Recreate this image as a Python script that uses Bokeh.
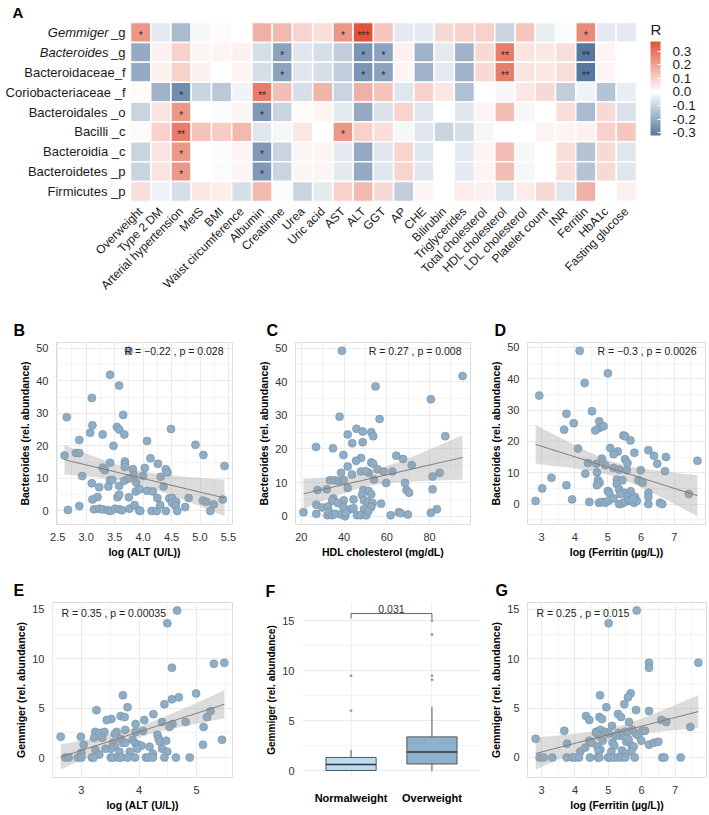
import math
import numpy as np
from bokeh.plotting import figure
from bokeh.models import (ColumnDataSource, LinearColorMapper, ColorBar, FixedTicker, Label, AllLabels,
                          Range1d, SingleIntervalTicker, PrintfTickFormatter)
from bokeh.layouts import column, row
from bokeh.embed import file_html
from bokeh.resources import INLINE
from bokeh.core.properties import value

FONT = "Liberation Sans"

# ---------------- Panel A data ----------------
rows = ["Gemmiger _g", "Bacteroides _g", "Bacteroidaceae_f", "Coriobacteriaceae _f", "Bacteroidales _o",
        "Bacilli _c", "Bacteroidia _c", "Bacteroidetes _p", "Firmicutes _p"]
cols = ["Overweight", "Type 2 DM", "Arterial hypertension", "MetS", "BMI", "Waist circumference", "Albumin",
        "Creatinine", "Urea", "Uric acid", "AST", "ALT", "GGT", "AP", "CHE", "Bilirubin", "Triglycerides",
        "Total cholesterol", "HDL cholesterol", "LDL cholesterol", "Platelet count", "INR", "Ferritin",
        "HbA1c", "Fasting glucose"]

r_gemmiger = [0.22, -0.05, -0.16, -0.02, 0.01, 0.00, 0.17, 0.15, 0.09, 0.07, 0.22, 0.37, 0.12,
              -0.05, -0.05, 0.08, 0.10, 0.10, -0.10, 0.12, -0.04, -0.01, 0.25, -0.05, -0.05]
r_bacteroides = [-0.20, 0.03, 0.10, 0.02, 0.02, 0.03, -0.08, -0.22, -0.06, -0.08, -0.12, -0.25, -0.22,
                 0.03, -0.18, -0.05, -0.18, 0.08, 0.28, 0.06, 0.05, 0.07, -0.32, 0.02, 0.00]
r_bacteroidaceae = [-0.20, 0.03, 0.10, 0.03, 0.00, 0.02, -0.08, -0.22, -0.06, -0.08, -0.12, -0.25, -0.22,
                    0.02, -0.18, -0.05, -0.18, 0.08, 0.28, 0.06, 0.05, 0.07, -0.32, 0.02, 0.00]
r_coriobacteriaceae = [0.01, -0.18, -0.27, -0.10, -0.13, -0.03, 0.28, 0.14, -0.08, 0.16, -0.10, 0.17, 0.13,
                       -0.06, 0.10, 0.05, -0.15, 0.00, -0.02, 0.05, 0.08, -0.12, -0.03, -0.14, -0.04]
r_bacteroidales = [-0.10, 0.06, 0.22, 0.00, -0.01, 0.02, -0.24, -0.10, 0.01, 0.02, -0.05, -0.20, -0.07,
                   0.09, -0.06, 0.00, -0.06, 0.02, 0.14, -0.02, 0.00, 0.07, -0.16, 0.08, -0.07]
r_bacilli = [0.01, 0.10, 0.28, 0.13, 0.11, 0.15, -0.06, -0.02, 0.05, 0.00, 0.22, 0.10, 0.07,
             -0.02, -0.06, -0.10, -0.08, -0.02, 0.00, 0.00, 0.02, 0.02, 0.03, 0.10, 0.12]
r_bacteroidia = [-0.10, 0.06, 0.22, 0.00, -0.01, 0.02, -0.24, -0.10, 0.02, 0.02, -0.05, -0.20, -0.06,
                 0.09, -0.06, 0.00, -0.05, 0.02, 0.14, -0.02, 0.00, 0.07, -0.14, 0.08, -0.06]
r_bacteroidetes = [-0.10, 0.06, 0.22, 0.00, -0.01, 0.02, -0.24, -0.10, 0.02, 0.02, -0.05, -0.20, -0.06,
                   0.09, -0.06, 0.00, -0.05, 0.02, 0.14, -0.02, 0.00, 0.07, -0.14, 0.08, -0.06]
r_firmicutes = [0.07, -0.03, -0.08, 0.05, 0.04, -0.08, 0.15, -0.01, -0.10, -0.05, 0.10, 0.15, 0.08,
                -0.12, 0.02, 0.00, 0.04, 0.03, -0.06, 0.04, 0.08, -0.06, 0.17, 0.00, 0.03]

sig_gemmiger = {"Overweight": "*", "AST": "*", "ALT": "***", "Ferritin": "*"}
sig_bacteroides = {"Creatinine": "*", "ALT": "*", "GGT": "*", "HDL cholesterol": "**", "Ferritin": "**"}
sig_bacteroidaceae = {"Creatinine": "*", "ALT": "*", "GGT": "*", "HDL cholesterol": "**", "Ferritin": "**"}
sig_coriobacteriaceae = {"Arterial hypertension": "*", "Albumin": "**"}
sig_bacteroidales = {"Arterial hypertension": "*", "Albumin": "*"}
sig_bacilli = {"Arterial hypertension": "**", "AST": "*"}
sig_bacteroidia = {"Arterial hypertension": "*", "Albumin": "*"}
sig_bacteroidetes = {"Arterial hypertension": "*", "Albumin": "*"}
sig_firmicutes = {}

legend_ticks = [-0.3, -0.2, -0.1, 0.0, 0.1, 0.2, 0.3]

# ---------------- Panel B-G data ----------------
b_alt = [3.75, 3.42, 3.58, 3.10, 2.66, 3.65, 3.54, 3.58, 3.11, 4.49, 3.29, 3.67, 3.07, 2.88, 4.07, 4.92,
         3.48, 2.82, 2.88, 2.62, 5.06, 4.13, 3.42, 3.68, 3.68, 3.68, 4.26, 3.29, 3.82, 2.93, 3.33, 4.03,
         3.84, 4.40, 4.43, 4.31, 4.00, 3.42, 3.46, 3.39, 3.23, 3.58, 3.67, 3.75, 3.88, 3.10, 3.87, 4.07,
         4.17, 3.94, 4.36, 3.20, 3.11, 3.55, 3.58, 3.75, 4.25, 4.46, 4.51, 4.51, 4.58, 4.80, 5.05, 5.11,
         5.24, 5.40, 5.43, 2.88, 2.68, 3.14, 3.23, 3.29, 3.38, 3.43, 3.51, 3.58, 3.63, 3.76, 3.85, 3.93,
         3.95, 4.15, 4.24, 4.30, 4.40, 4.57, 4.60, 4.74, 5.18]
b_bacteroides = [49.2, 41.8, 38.5, 34.7, 28.8, 29.5, 25.8, 25.0, 26.3, 25.2, 23.5, 23.5, 24.0, 21.8, 21.5,
                 20.3, 20.0, 17.8, 17.8, 17.0, 17.2, 16.2, 14.8, 15.2, 14.3, 13.5, 14.5, 13.3, 12.8, 10.7,
                 12.5, 13.2, 11.0, 12.8, 11.8, 10.5, 10.8, 9.5, 9.5, 7.5, 7.3, 7.7, 9.3, 10.0, 8.7, 8.5,
                 6.0, 6.2, 6.0, 6.7, 7.5, 4.3, 3.5, 4.2, 5.0, 4.2, 4.0, 3.8, 4.0, 2.5, 2.8, 4.0, 3.2, 2.8,
                 2.0, 3.5, 13.8, 1.5, 0.3, 0.5, 0.7, 0.5, 0.2, 0.0, 0.7, 0.5, 0.2, 0.7, 1.8, 0.2, 0.0, 0.0,
                 0.0, 1.8, 0.0, 1.5, 0.0, 1.2, 0.0]

c_hdl = [39.0, 95.4, 54.7, 80.6, 37.9, 56.6, 45.8, 48.7, 52.7, 53.6, 41.7, 43.8, 48.7, 26.9, 34.8, 87.3,
         39.7, 64.4, 67.6, 47.9, 45.6, 71.6, 52.7, 53.6, 41.7, 55.6, 58.5, 62.6, 47.9, 51.5, 50.2, 38.6,
         43.7, 54.0, 59.7, 68.5, 81.4, 84.7, 33.4, 35.6, 37.4, 39.8, 41.7, 81.4, 69.2, 70.4, 27.6, 31.9,
         49.0, 51.5, 52.7, 48.4, 35.0, 34.4, 39.8, 44.4, 49.3, 51.2, 53.3, 57.3, 37.1, 27.0, 29.8, 32.5,
         39.7, 42.9, 44.4, 49.3, 52.7, 83.4, 21.0, 27.0, 32.2, 33.1, 34.4, 35.9, 38.6, 40.5, 40.8, 46.0,
         47.8, 50.4, 51.3, 61.8, 65.6, 66.4, 69.8, 80.6]
c_bacteroides = [49.2, 41.7, 38.6, 34.8, 29.6, 28.9, 26.0, 25.2, 25.0, 23.8, 24.3, 21.7, 22.0, 20.6, 20.2,
                 23.8, 18.2, 18.0, 17.0, 17.3, 16.5, 15.2, 16.0, 15.6, 14.8, 14.0, 13.3, 13.3, 13.3, 12.9,
                 13.4, 12.9, 12.4, 10.9, 9.9, 9.9, 11.8, 12.9, 10.7, 10.7, 10.4, 10.7, 8.4, 8.0, 7.8, 7.0,
                 7.8, 8.0, 7.8, 7.5, 6.5, 6.3, 5.3, 4.6, 4.7, 5.0, 4.7, 4.2, 3.9, 3.7, 3.9, 3.4, 2.6, 2.9,
                 2.6, 2.1, 2.4, 2.1, 2.7, 2.1, 1.2, 0.7, 0.3, 1.2, 0.3, 0.7, 0.5, 0.0, 1.0, 0.3, 0.3, 0.3,
                 1.5, 0.3, 1.2, 0.9, 0.5, 1.0]

d_ferritin = [4.15, 5.00, 4.30, 2.93, 3.75, 4.52, 3.97, 4.74, 4.74, 4.87, 4.62, 3.68, 5.47, 5.52, 5.68,
              6.22, 4.10, 5.07, 5.30, 5.80, 6.39, 6.75, 5.17, 5.52, 5.59, 4.82, 7.70, 4.40, 4.65, 4.92,
              6.49, 5.17, 5.34, 5.57, 6.72, 5.99, 4.32, 4.67, 3.30, 4.70, 4.75, 5.92, 6.05, 5.27, 5.44,
              3.75, 4.67, 5.27, 3.02, 5.00, 5.04, 5.34, 5.50, 5.38, 5.69, 5.60, 5.82, 6.22, 6.22, 7.44,
              3.92, 2.82, 4.44, 4.73, 4.82, 4.92, 5.34, 5.42, 5.52, 5.62, 5.69, 5.79, 5.87, 6.22, 6.57,
              6.64, 5.02, 5.17, 5.77]
d_bacteroides = [48.9, 41.7, 38.6, 34.6, 28.8, 29.6, 25.8, 26.4, 24.3, 24.8, 23.5, 23.7, 21.9, 21.6, 20.3,
                 17.2, 17.7, 17.9, 16.8, 16.4, 15.4, 15.0, 15.9, 14.3, 13.1, 14.5, 13.8, 13.1, 12.9, 12.4,
                 12.9, 11.5, 11.0, 10.8, 10.5, 10.8, 9.7, 10.1, 8.4, 7.6, 6.8, 7.6, 6.8, 7.8, 7.6, 6.0,
                 6.0, 6.4, 5.0, 4.2, 3.6, 4.7, 3.6, 3.2, 4.1, 2.3, 2.3, 3.6, 2.3, 3.2, 1.5, 1.0, 0.7, 0.4,
                 0.7, 0.4, 0.0, 0.2, 0.7, 1.3, 1.0, 0.4, 1.0, 0.0, 0.4, 0.0, 1.1, 1.8, 1.6]

e_alt = [4.66, 4.49, 4.57, 5.30, 5.48, 4.99, 4.69, 4.57, 3.72, 4.44, 3.80, 3.26, 4.25, 3.68, 3.75, 3.52,
         3.44, 4.09, 5.24, 5.18, 4.40, 3.94, 4.81, 4.58, 4.53, 5.12, 3.61, 3.58, 3.76, 4.07, 3.94, 3.24,
         3.32, 3.40, 2.64, 2.99, 3.22, 3.36, 4.32, 4.34, 4.36, 4.47, 3.68, 3.72, 3.89, 3.76, 3.55, 3.94,
         3.99, 4.04, 3.04, 5.11, 5.44, 4.18, 3.58, 3.51, 3.42, 3.24, 3.31, 3.00, 4.40, 4.49, 3.66, 3.84,
         3.97, 4.24, 2.72, 2.78, 2.94, 3.00, 3.18, 3.21, 3.51, 3.55, 3.64, 3.69, 3.80, 3.93, 4.12, 4.16,
         4.24, 4.44, 4.64, 4.88]
e_gemmiger = [14.9, 13.6, 9.1, 9.5, 9.6, 6.5, 6.1, 5.9, 6.3, 5.4, 5.1, 4.8, 4.4, 4.2, 4.1, 3.9, 3.8, 3.8,
              4.7, 4.1, 3.6, 3.4, 3.6, 3.4, 3.1, 3.1, 2.6, 2.4, 2.8, 2.7, 2.6, 2.6, 2.5, 2.6, 2.1, 2.1,
              2.0, 2.0, 2.3, 1.9, 1.6, 1.7, 1.9, 1.5, 1.8, 1.5, 1.5, 1.4, 1.3, 1.2, 1.3, 1.3, 1.8, 1.1,
              1.1, 0.9, 0.9, 0.8, 0.3, 0.5, 0.9, 0.6, 0.6, 0.6, 0.9, 0.4, 0.0, 0.0, 0.0, 0.0, 0.0, 0.0,
              0.0, 0.0, 0.0, 0.0, 0.0, 0.0, 0.0, 0.0, 0.0, 0.0, 0.0, 0.0]

f_groups = ["Normalweight", "Overweight"]
f_lower = [0.0, 0.0]
f_q1 = [0.05, 0.7]
f_median = [0.65, 1.9]
f_q3 = [1.35, 3.4]
f_upper = [2.1, 6.4]
f_out_normal = [6.0, 9.5]
f_out_over = [9.1, 9.5, 13.6, 15.0]
f_pvalue = "0.031"

g_ferritin = [5.85, 5.01, 7.70, 6.22, 6.22, 4.75, 5.67, 5.59, 4.94, 5.48, 6.22, 5.83, 4.33, 4.43, 4.73,
              4.81, 5.29, 5.38, 6.59, 6.74, 7.46, 5.62, 3.68, 4.64, 4.76, 4.71, 4.63, 5.11, 4.91, 5.01,
              5.49, 5.59, 5.73, 5.83, 5.91, 6.02, 6.10, 5.31, 5.37, 5.23, 2.82, 3.76, 4.43, 4.51, 4.83,
              5.13, 5.18, 5.54, 5.61, 5.70, 5.76, 5.99, 6.22, 6.37, 6.50, 4.16, 4.31, 4.67, 4.76, 4.71,
              5.09, 5.41, 5.51, 5.69, 2.94, 3.06, 3.32, 3.75, 3.92, 4.00, 4.12, 4.45, 4.69, 4.73, 4.99,
              5.06, 5.16, 5.29, 5.39, 5.51, 5.79, 6.62, 6.68, 7.17]
g_gemmiger = [14.9, 13.6, 9.6, 9.6, 9.1, 6.3, 6.5, 6.1, 5.1, 5.4, 4.7, 4.8, 4.2, 3.8, 4.1, 3.9, 4.4, 4.1,
              3.8, 3.6, 3.1, 3.6, 2.7, 2.6, 2.8, 2.2, 2.5, 3.2, 2.6, 2.4, 2.6, 2.6, 2.8, 2.4, 2.2, 2.7,
              2.7, 2.5, 2.2, 2.2, 1.9, 1.4, 1.7, 1.5, 1.7, 1.5, 1.2, 1.6, 1.8, 1.2, 1.1, 1.7, 1.3, 1.5,
              1.6, 0.6, 1.0, 1.1, 0.8, 0.6, 0.6, 0.7, 0.4, 0.6, 0.0, 0.0, 0.0, 0.0, 0.0, 0.0, 0.0, 0.0,
              0.0, 0.0, 0.0, 0.0, 0.0, 0.0, 0.0, 0.0, 0.0, 0.0, 0.0, 0.0]

stat_b = "R = \u22120.22 , p = 0.028"
stat_c = "R = 0.27 , p = 0.008"
stat_d = "R = \u22120.3 , p = 0.0026"
stat_e = "R = 0.35 , p = 0.00035"
stat_g = "R = 0.25 , p = 0.015"

# ---------------- styling helpers ----------------
BLUE = np.array([62, 99, 145], float)
RED = np.array([224, 83, 58], float)
WHITE = np.array([255, 255, 255], float)
PT_FILL = "#8fadc5"
PT_LINE = "#7090aa"


def mid_palette(lo, hi, n=256):
    m = max(abs(lo), abs(hi))
    out = []
    for v in np.linspace(lo, hi, n):
        t = v / m
        c = WHITE + (BLUE - WHITE) * (-t) if t < 0 else WHITE + (RED - WHITE) * t
        out.append("#%02x%02x%02x" % tuple(int(round(k)) for k in c))
    return out


def letter(p, txt, dx, standoff, size="16px"):
    p.title.text = txt
    p.title.align = "left"
    p.title.offset = dx
    p.title.standoff = standoff
    p.title.text_font = FONT
    p.title.text_font_size = size
    p.title.text_font_style = "bold"
    p.title.text_color = "black"


def base_style(p, label_size="10.5px"):
    p.outline_line_color = "#dcdcdc"
    p.background_fill_color = "white"
    p.border_fill_color = "white"
    for ax in p.axis:
        ax.axis_line_color = None
        ax.major_tick_line_color = None
        ax.minor_tick_line_color = None
        ax.major_label_text_font = FONT
        ax.major_label_text_font_size = "11px"
        ax.major_label_text_color = "#333333"
        ax.axis_label_text_font = FONT
        ax.axis_label_text_font_size = label_size
        ax.axis_label_text_font_style = "bold"
        ax.axis_label_text_color = "black"
        ax.major_label_standoff = 2
        ax.axis_label_standoff = 2
    p.grid.grid_line_color = "#ebebeb"
    p.grid.minor_grid_line_color = "#f3f3f3"


def scatter_panel(xv, yv, let, let_dx, xlab, ylab, stat, stat_right, w, h, bl, br, bt, bb,
                  x_int, y_int, xfmt=None):
    x = np.asarray(xv, float)
    y = np.asarray(yv, float)
    n = len(x)
    slope, icpt = np.polyfit(x, y, 1)
    xs = np.linspace(x.min(), x.max(), 80)
    fit = icpt + slope * xs
    res = y - (icpt + slope * x)
    s = np.sqrt((res ** 2).sum() / (n - 2))
    sxx = ((x - x.mean()) ** 2).sum()
    se = s * np.sqrt(1.0 / n + (xs - x.mean()) ** 2 / sxx)
    lo, hi = fit - 1.988 * se, fit + 1.988 * se
    dx = x.max() - x.min()
    ymin, ymax = min(y.min(), lo.min()), max(y.max(), hi.max())
    dy = ymax - ymin
    xr = Range1d(x.min() - 0.05 * dx, x.max() + 0.05 * dx)
    yr = Range1d(ymin - 0.05 * dy, ymax + 0.05 * dy)
    p = figure(width=w, height=h, x_range=xr, y_range=yr, output_backend="svg", toolbar_location=None,
               min_border_left=bl, min_border_right=br, min_border_top=bt, min_border_bottom=bb)
    base_style(p)
    xt = SingleIntervalTicker(interval=x_int, num_minor_ticks=2)
    yt = SingleIntervalTicker(interval=y_int, num_minor_ticks=2)
    p.xaxis.ticker = xt
    p.xgrid.ticker = xt
    p.yaxis.ticker = yt
    p.ygrid.ticker = yt
    if xfmt:
        p.xaxis.formatter = PrintfTickFormatter(format=xfmt)
    p.xaxis.axis_label = xlab
    p.yaxis.axis_label = ylab
    p.scatter(x, y, size=8, fill_color=PT_FILL, line_color=PT_LINE, line_width=0.6)
    p.varea(x=xs, y1=lo, y2=hi, fill_color="#9a9a9a", fill_alpha=0.35)
    p.line(xs, fit, line_color="#7a7a7a", line_width=1)
    if stat_right:
        p.add_layout(Label(x=xr.end, y=yr.end, text=stat, x_offset=-9, y_offset=-8, text_align="right",
                           text_baseline="middle", text_font=FONT, text_font_size="10.5px",
                           text_color="#222222"))
    else:
        p.add_layout(Label(x=xr.start, y=yr.end, text=stat, x_offset=9, y_offset=-10, text_align="left",
                           text_baseline="middle", text_font=FONT, text_font_size="10.5px",
                           text_color="#222222"))
    letter(p, let, let_dx, 7)
    return p


# ---------------- Panel A ----------------
r_rows = [r_gemmiger, r_bacteroides, r_bacteroidaceae, r_coriobacteriaceae, r_bacteroidales, r_bacilli,
          r_bacteroidia, r_bacteroidetes, r_firmicutes]
sig_rows = [sig_gemmiger, sig_bacteroides, sig_bacteroidaceae, sig_coriobacteriaceae, sig_bacteroidales,
            sig_bacilli, sig_bacteroidia, sig_bacteroidetes, sig_firmicutes]
n_rows, n_cols = len(rows), len(cols)
hx, hy, hr, hs = [], [], [], []
for i, (rv, sg) in enumerate(zip(r_rows, sig_rows)):
    for j, (cname, v) in enumerate(zip(cols, rv)):
        hx.append(j)
        hy.append(n_rows - 1 - i)
        hr.append(v)
        hs.append(sg.get(cname, ""))
src = ColumnDataSource(dict(x=hx, y=hy, r=hr, s=hs))
lo_r, hi_r = min(hr), max(hr)
mapper = LinearColorMapper(palette=mid_palette(lo_r, hi_r), low=lo_r, high=hi_r)

# layout of the heat map inside a full-width frame (pixels)
HM_W, HM_LEFT, HM_CELLS_W, HM_H = 709, 130, 506, 181
cw = HM_CELLS_W / n_cols
rh = HM_H / n_rows
x0 = -0.5 - HM_LEFT / cw
ha = figure(x_range=Range1d(x0, x0 + HM_W / cw), y_range=Range1d(-0.5, n_rows - 0.5), width=HM_W,
            height=300, output_backend="svg", toolbar_location=None, min_border_left=0,
            min_border_right=0, min_border_top=21, min_border_bottom=98)
ha.rect(x="x", y="y", width=1, height=1, source=src, fill_color={"field": "r", "transform": mapper},
        line_color="white", line_width=1.5)
ha.text(x="x", y="y", text="s", source=src, text_align="center", text_baseline="middle", y_offset=3,
        text_font=value(FONT), text_font_size="10px", text_color="#2a2a2a")
ha.outline_line_color = None
ha.grid.grid_line_color = None
ha.yaxis.visible = False
ha.xaxis.axis_line_color = None
ha.xaxis.major_tick_line_color = None
ha.xaxis.minor_tick_line_color = None
ha.xaxis.ticker = FixedTicker(ticks=list(range(n_cols)))
ha.xaxis.major_label_overrides = {j: c for j, c in enumerate(cols)}
ha.xaxis.major_label_text_font = FONT
ha.xaxis.major_label_text_color = "#1a1a1a"
ha.xaxis.major_label_text_font_size = "12px"
ha.xaxis.major_label_standoff = 2
ha.xaxis.major_label_orientation = math.pi / 4

italic_rows = {"Gemmiger _g": "Gemmiger", "Bacteroides _g": "Bacteroides"}
row_y = [n_rows - 1 - i for i in range(n_rows)]
plain_txt = ["_g" if r in italic_rows else r for r in rows]
ha.text(x=[-0.5] * n_rows, y=row_y, text=plain_txt, x_offset=-5, text_align="right",
        text_baseline="middle", text_font=value(FONT), text_font_size="13px", text_color="#1a1a1a")
it_names = [r for r in rows if r in italic_rows]
ha.text(x=[-0.5] * len(it_names), y=[row_y[rows.index(r)] for r in it_names],
        text=[italic_rows[r] for r in it_names], x_offset=-22, text_align="right", text_baseline="middle",
        text_font=value(FONT), text_font_size="13px", text_font_style="italic", text_color="#1a1a1a")
letter(ha, "A", 12, 3, "15px")
ha.add_layout(Label(x=n_cols - 0.5 + 14 / cw, y=n_rows - 0.5 - 7 / rh, text="R", text_align="left",
                    text_baseline="middle", text_font=FONT, text_font_size="15px", text_color="#1a1a1a"))
cb = ColorBar(color_mapper=mapper, ticker=FixedTicker(ticks=legend_ticks),
              formatter=PrintfTickFormatter(format="%.1f"), width=10, height=94,
              major_label_text_font=FONT, major_label_text_font_size="13.5px",
              major_label_policy=AllLabels(),
              major_label_text_color="#1a1a1a", label_standoff=12, major_tick_line_color="white",
              major_tick_in=3, bar_line_color=None, padding=0, margin=0,
              location=(HM_LEFT + HM_CELLS_W + 14, 66),
              background_fill_color=None, border_line_color=None)
ha.add_layout(cb)

# ---------------- Panels B-D ----------------
pb = scatter_panel(b_alt, b_bacteroides, "B", -43, "log (ALT (U/L))", "Bacteroides (rel. abundance)",
                   stat_b, True, 240, 260, 56, 8, 42, 35, 0.5, 10, "%.1f")
pc = scatter_panel(c_hdl, c_bacteroides, "C", -29, "HDL cholesterol (mg/dL)", "Bacteroides (rel. abundance)",
                   stat_c, True, 240, 260, 55, 10, 42, 35, 20, 10)
pd = scatter_panel(d_ferritin, d_bacteroides, "D", -33, "log (Ferritin (\u00b5g/L))",
                   "Bacteroides (rel. abundance)", stat_d, True, 229, 260, 47, 4, 42, 35, 1, 10)

# ---------------- Panels E-G ----------------
pe = scatter_panel(e_alt, e_gemmiger, "E", -39, "log (ALT (U/L))", "Gemmiger (rel. abundance)",
                   stat_e, False, 240, 253, 52, 8, 42, 27, 1, 5)
pg = scatter_panel(g_ferritin, g_gemmiger, "G", -32, "log (Ferritin (\u00b5g/L))", "Gemmiger (rel. abundance)",
                   stat_g, False, 225, 253, 43, 3, 42, 27, 1, 5)

xpos = [i + 1 for i in range(len(f_groups))]
pf = figure(width=244, height=253, x_range=Range1d(0.4, 2.6), y_range=Range1d(-0.65, 16.8),
            output_backend="svg", toolbar_location=None, min_border_left=62, min_border_right=4,
            min_border_top=42, min_border_bottom=27)
base_style(pf, "10px")
pf.outline_line_color = None
pf.xaxis.ticker = FixedTicker(ticks=xpos)
pf.xgrid.ticker = FixedTicker(ticks=xpos)
pf.xaxis.major_label_overrides = {xp: g for xp, g in zip(xpos, f_groups)}
pf.xaxis.major_label_text_font_style = "bold"
pf.xaxis.major_label_text_color = "black"
pf.xaxis.major_label_standoff = 8
fyt = SingleIntervalTicker(interval=5, num_minor_ticks=2)
pf.yaxis.ticker = fyt
pf.ygrid.ticker = fyt
pf.yaxis.axis_label = "Gemmiger (rel. abundance)"
pf.xgrid.grid_line_color = "#efefef"
bw = 0.31
xa = np.array(xpos, float)
pf.segment(x0=xa, y0=f_q3, x1=xa, y1=f_upper, line_color="#555555", line_width=1)
pf.segment(x0=xa, y0=f_lower, x1=xa, y1=f_q1, line_color="#555555", line_width=1)
pf.quad(left=xa - bw, right=xa + bw, bottom=f_q1, top=f_q3, fill_color=["#bcdcf1", "#8fb0ca"],
        line_color="#555555", line_width=1)
pf.segment(x0=xa - bw, y0=f_median, x1=xa + bw, y1=f_median, line_color="#333333", line_width=1.6)
pf.scatter([xpos[0]] * len(f_out_normal), f_out_normal, size=2, color="#9a9a9a")
pf.scatter([xpos[1]] * len(f_out_over), f_out_over, size=2, color="#9a9a9a")
top = max(f_out_over + f_out_normal)
pf.segment(x0=[xpos[0], xpos[0], xpos[1]], y0=[top + 0.2, top + 0.7, top + 0.7],
           x1=[xpos[0], xpos[1], xpos[1]], y1=[top + 0.7, top + 0.7, top + 0.2],
           line_color="#666666", line_width=1)
pf.add_layout(Label(x=1.5, y=top + 0.7, text=f_pvalue, text_align="center", text_baseline="bottom",
                    y_offset=1, text_font=FONT, text_font_size="10.5px", text_color="#333333"))
letter(pf, "F", -37, 6)

layout = column(ha, row(pb, pc, pd), row(pe, pf, pg))
open("out.html", "w").write(file_html(layout, INLINE))
